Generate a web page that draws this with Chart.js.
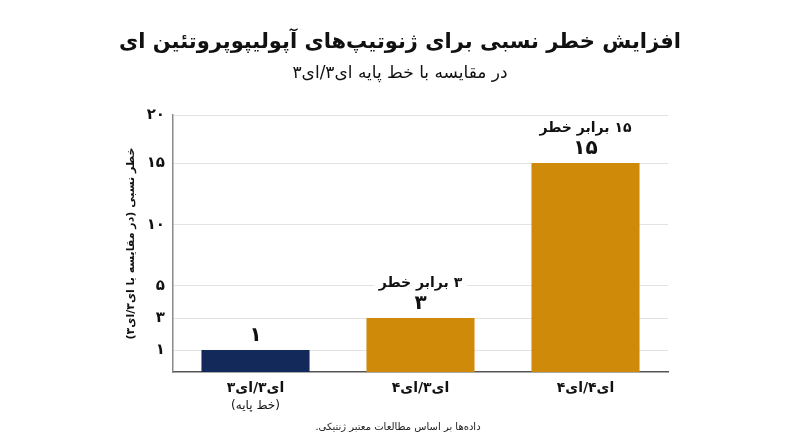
<!DOCTYPE html>
<html lang="fa" dir="rtl">
<head>
<meta charset="utf-8">
<title>افزایش خطر نسبی برای ژنوتیپ‌های آپولیپوپروتئین ای</title>
<script src="https://cdn.jsdelivr.net/npm/chart.js@4/dist/chart.umd.min.js"></script>
<style>
  html, body { margin: 0; padding: 0; background: #fff; }
  #wrap { width: 800px; height: 447px; }
</style>
</head>
<body>
<div id="wrap"><canvas id="riskChart" width="800" height="447"></canvas></div>
<script>
  // Data
  const genotypes = ['ای۳/ای۳', 'ای۳/ای۴', 'ای۴/ای۴'];
  const genotypeNotes = ['(خط پایه)', '', ''];
  const relativeRisk = [1, 3, 15];
  const showCaption = [false, true, true];
  const yTicks = [1, 3, 5, 10, 15, 20];

  const chartTitle = 'افزایش خطر نسبی برای ژنوتیپ‌های آپولیپوپروتئین ای';
  const chartSubtitle = 'در مقایسه با خط پایه ای۳/ای۳';
  const yTitle = 'خطر نسبی (در مقایسه با ای۳/ای۳)';
  const footNote = 'داده‌ها بر اساس مطالعات معتبر ژنتیکی.';
  const captionSuffix = ' برابر خطر';

  const FONT = '"DejaVu Sans", "Noto Sans", sans-serif';
  const NAVY = '#13295a', GOLD = '#d08a0a';

  const toFa = (n)=> String(n).replace(/\d/g, d=>'۰۱۲۳۴۵۶۷۸۹'[d]);

  // the y axis in the picture is not linear: each tick gets its own share of the height
  const riskAxisStops = [[0,0],[1,0.0856],[3,0.21],[5,0.335],[10,0.572],[15,0.813],[20,1]];

  class StopScale extends Chart.LinearScale {
    _frac(v){
      const s = riskAxisStops;
      if (v <= s[0][0]) return s[0][1];
      for (let i=1;i<s.length;i++){
        if (v <= s[i][0]) {
          const [v0,f0] = s[i-1], [v1,f1] = s[i];
          return f0 + (v-v0)/(v1-v0)*(f1-f0);
        }
      }
      return s[s.length-1][1];
    }
    getPixelForValue(value){
      if (value === null || isNaN(value)) return NaN;
      return this.getPixelForDecimal(this._frac(value));
    }
    getValueForPixel(pixel){
      const f = this.getDecimalForPixel(pixel);
      const s = riskAxisStops;
      for (let i=1;i<s.length;i++){
        if (f <= s[i][1]) {
          const [v0,f0] = s[i-1], [v1,f1] = s[i];
          return v0 + (f-f0)/(f1-f0)*(v1-v0);
        }
      }
      return s[s.length-1][0];
    }
  }
  StopScale.id = 'stops';
  StopScale.defaults = Chart.LinearScale.defaults;
  Chart.register(StopScale);

  // titles, sub-note under first tick and footer
  const pageText = {
    id: 'pageText',
    afterDraw(chart){
      const ctx = chart.ctx;
      ctx.save();
      ctx.direction = 'rtl';
      ctx.textAlign = 'center';
      ctx.textBaseline = 'middle';
      ctx.fillStyle = '#111';
      ctx.font = 'bold 21px ' + FONT;
      ctx.fillText(chartTitle, 400, 43);
      ctx.font = '17px ' + FONT;
      ctx.fillText(chartSubtitle, 400, 74);
      ctx.font = '10px ' + FONT;
      ctx.fillStyle = '#222';
      ctx.fillText(footNote, 398, 427);

      const x = chart.scales.x;
      ctx.font = '12px ' + FONT;
      ctx.fillStyle = '#111';
      genotypeNotes.forEach((n,i)=>{ if (n) ctx.fillText(n, x.getPixelForTick(i), 406); });
      ctx.restore();
    }
  };

  // value labels above the bars
  const barLabels = {
    id: 'barLabels',
    afterDatasetsDraw(chart){
      const ctx = chart.ctx;
      const meta = chart.getDatasetMeta(0);
      ctx.save();
      ctx.direction = 'rtl';
      ctx.textAlign = 'center';
      ctx.textBaseline = 'middle';
      meta.data.forEach((bar,i)=>{
        const v = relativeRisk[i];
        ctx.fillStyle = '#111';
        ctx.font = 'bold 20px ' + FONT;
        ctx.fillText(toFa(v), bar.x, bar.y - 14);
        if (showCaption[i]) {
          const txt = toFa(v) + captionSuffix;
          ctx.font = 'bold 14px ' + FONT;
          const w = ctx.measureText(txt).width;
          ctx.fillStyle = '#fff';
          ctx.fillRect(bar.x - w/2 - 5, bar.y - 45, w + 10, 20);
          ctx.fillStyle = '#111';
          ctx.fillText(txt, bar.x, bar.y - 35);
        }
      });
      ctx.restore();
    }
  };

  new Chart(document.getElementById('riskChart').getContext('2d'), {
    type: 'bar',
    data: {
      labels: genotypes,
      datasets: [{
        data: relativeRisk,
        backgroundColor: [NAVY, GOLD, GOLD],
        borderWidth: 0,
        categoryPercentage: 1,
        barPercentage: 0.655
      }]
    },
    options: {
      responsive: false,
      animation: false,
      devicePixelRatio: 1,
      layout: { padding: { top: 115, right: 132, bottom: 0, left: 0 } },
      plugins: { legend: { display: false }, tooltip: { enabled: false } },
      scales: {
        x: {
          grid: { display: false },
          border: { display: true, color: '#555', width: 1.5 },
          ticks: { color: '#111', font: { family: FONT, size: 14, weight: 'bold' }, padding: 0 },
          afterFit: s => { s.height = 75; }
        },
        y: {
          type: 'stops',
          min: 0, max: 20,
          afterBuildTicks: s => { s.ticks = yTicks.map(v=>({ value: v })); },
          grid: { color: '#e3e3e3', lineWidth: 1, drawTicks: false },
          border: { color: '#8a8a8a', width: 1.5 },
          ticks: {
            color: '#111', padding: 8,
            font: { family: FONT, size: 15, weight: 'bold' },
            callback: v => toFa(v)
          },
          title: {
            display: true, text: yTitle, color: '#111',
            font: { family: FONT, size: 11, weight: 'bold' },
            padding: { top: 125, bottom: 0 }
          },
          afterFit: s => { s.width = 173; }
        }
      }
    },
    plugins: [barLabels, pageText]
  });
</script>
</body>
</html>
